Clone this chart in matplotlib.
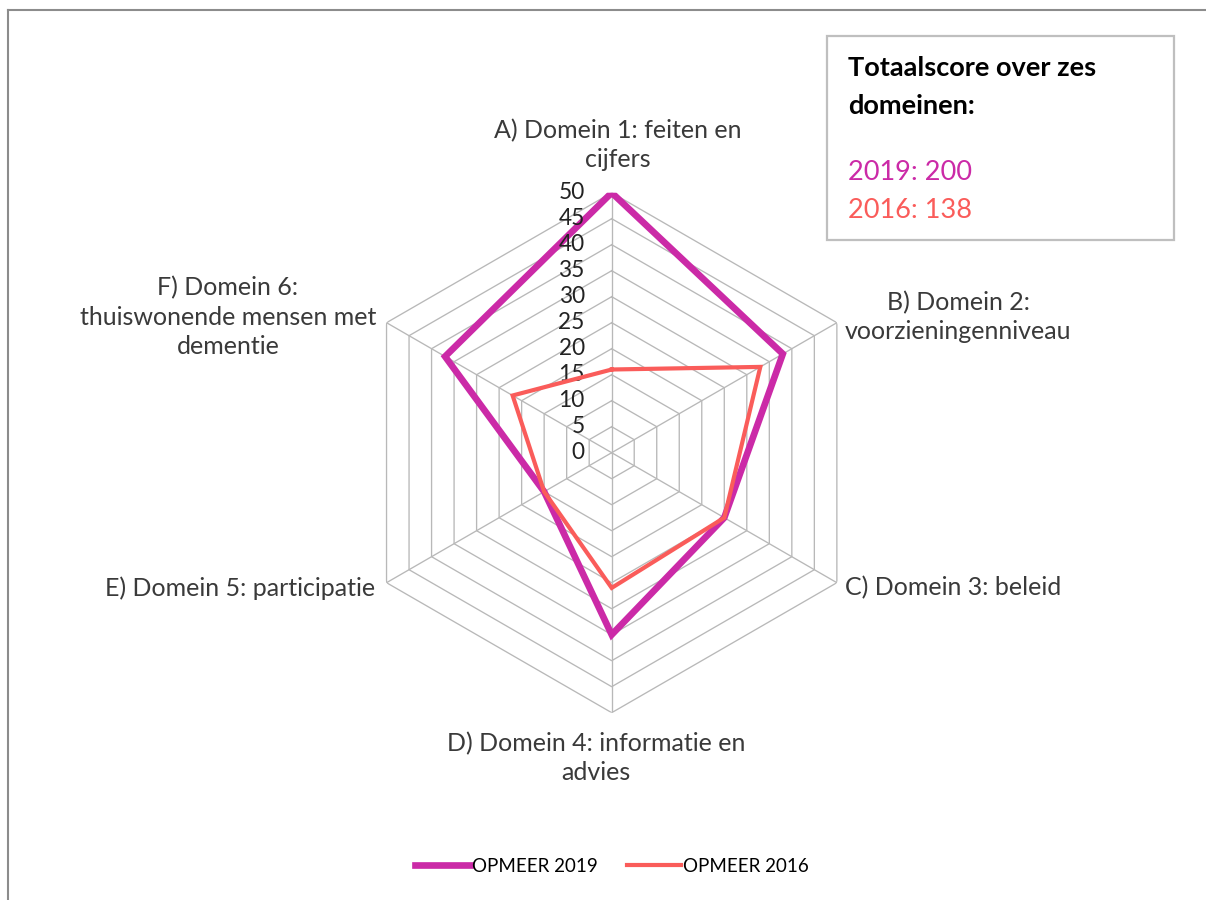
import numpy as np
import matplotlib
matplotlib.use("Agg")
import matplotlib.pyplot as plt
from matplotlib.lines import Line2D
from matplotlib.patches import Rectangle

categories = ["A) Domein 1: feiten en\ncijfers",
              "B) Domein 2:\nvoorzieningenniveau",
              "C) Domein 3: beleid",
              "D) Domein 4: informatie en\nadvies",
              "E) Domein 5: participatie",
              "F) Domein 6:\nthuiswonende mensen met\ndementie"]
series_2019 = [50, 38, 25, 35, 15, 37]
series_2016 = [16, 33, 25, 26, 15, 22]
series_names = ["OPMEER 2019", "OPMEER 2016"]
tick_values = [0, 5, 10, 15, 20, 25, 30, 35, 40, 45, 50]
box_title = "Totaalscore over zes\ndomeinen:"
box_lines = ["2019: 200", "2016: 138"]

c2019 = "#CB2AA7"
c2016 = "#FA5C5A"
grid_c = "#B8B8B8"

plt.rcParams['font.family'] = ['Lato', 'DejaVu Sans']

W, H = 1206, 900
fig = plt.figure(figsize=(W / 100, H / 100), dpi=100)

cx, cy, R = 611.7, 452.7, 260.0
ax = fig.add_axes([(cx - R) / W, (H - cy - R) / H, 2 * R / W, 2 * R / H], projection='polar')
ax.set_theta_zero_location('N')
ax.set_theta_direction(-1)
ax.set_ylim(0, 50)
ax.grid(False)
ax.spines['polar'].set_visible(False)
ax.set_xticks([])
ax.set_yticks([])
ax.patch.set_alpha(0)

n = len(categories)
theta = np.arange(n) * 2 * np.pi / n
theta_c = np.append(theta, theta[0])

for v in tick_values[1:]:
    ax.plot(theta_c, [v] * (n + 1), color=grid_c, lw=0.95, zorder=1)
for t in theta:
    ax.plot([t, t], [0, 50], color=grid_c, lw=0.95, zorder=1)

l1, = ax.plot(theta_c, series_2019 + series_2019[:1], color=c2019, lw=4.8,
              solid_joinstyle='miter', zorder=3, label=series_names[0])
l2, = ax.plot(theta_c, series_2016 + series_2016[:1], color=c2016, lw=3.0,
              solid_joinstyle='miter', zorder=4, label=series_names[1])

for v in tick_values:
    ax.annotate(str(v), xy=(0, v), xytext=(-27, 0), textcoords='offset pixels',
                ha='right', va='center', fontsize=16.3, color='#222222',
                annotation_clip=False)

# category labels (pixel coordinates)
lab_pos = [(618, 145, 'center'), (958, 317, 'center'), (845, 588, 'left'),
           (596, 758, 'center'), (375, 588, 'right'), (228, 317, 'center')]
for txt, (x, y, ha) in zip(categories, lab_pos):
    fig.text(x / W, 1 - y / H, txt, ha=ha, va='center', fontsize=18,
             color='#3A3A3A', linespacing=1.33, multialignment='center')

# legend
fig.legend(handles=[l1, l2], loc='center', bbox_to_anchor=(612 / W, 1 - 866 / H),
           ncol=2, frameon=False, fontsize=13.5, handlelength=2.9,
           handletextpad=0.1, columnspacing=1.55)

# text box
fig.add_artist(Rectangle((827 / W, 1 - 240 / H), 347 / W, 204 / H,
                         transform=fig.transFigure, fill=False,
                         edgecolor='#BFBFBF', lw=1.6))
fig.text(848 / W, 1 - 87 / H, box_title, ha='left', va='center', fontsize=19.5,
         fontweight='bold', color='black', linespacing=1.7)
fig.text(848 / W, 1 - 173 / H, box_lines[0], ha='left', va='center', fontsize=19.5,
         color=c2019)
fig.text(848 / W, 1 - 210 / H, box_lines[1], ha='left', va='center', fontsize=19.5,
         color=c2016)

# outer frame (partially visible)
fig.add_artist(Line2D([8 / W, 8 / W], [0, 1 - 10 / H], transform=fig.transFigure,
                      color='#8C8C8C', lw=1.5))
fig.add_artist(Line2D([8 / W, 1], [1 - 10 / H, 1 - 10 / H], transform=fig.transFigure,
                      color='#8C8C8C', lw=1.5))

fig.savefig("out.png", dpi=100, facecolor='white')
